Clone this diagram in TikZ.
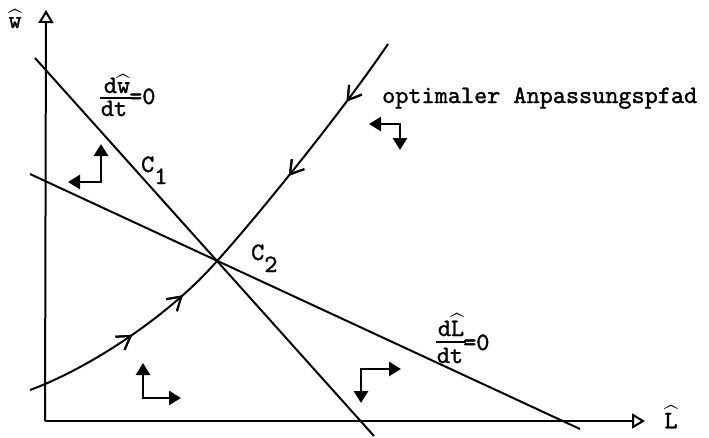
\documentclass[tikz,border=0pt]{standalone}
\usepackage{amsmath}
\usepackage{fontspec}
\newfontfamily\twfont{lmmono10-regular.otf}[FakeBold=1.4]
\usetikzlibrary{arrows.meta,decorations.markings}
\begin{document}
\begin{tikzpicture}[x=1pt,y=-1pt,
  ax/.style={line width=2pt,-{Triangle[open,length=13pt,width=15pt,line width=2pt]}},
  ln/.style={line width=2pt},
  frule/.style={line width=1.6pt},
  ph/.style={line width=2.8pt,{Triangle[length=12pt,width=14pt]}-{Triangle[length=12pt,width=14pt]}},
  lab/.style={font=\twfont\fontsize{25}{29}\selectfont,inner sep=0pt},
  fwd/.style={postaction={decorate},decoration={markings,
     mark=at position #1 with {\draw[line width=2pt,line join=miter] (-13pt,8pt) -- (0pt,0pt) -- (-13pt,-8pt);}}},
  bwd/.style={postaction={decorate},decoration={markings,
     mark=at position #1 with {\draw[line width=2pt,line join=miter] (13pt,8pt) -- (0pt,0pt) -- (13pt,-8pt);}}}
]
\useasboundingbox (0,0) rectangle (709,437);
% axes
\coordinate (o) at (45,421);
\coordinate (ytip) at (46,10);
\coordinate (xtip) at (645,421);
\draw[ax] (o) -- (ytip);
\draw[ax] (o) -- (xtip);
\node[lab] (yl) at (15,19) {$\widehat{\hbox{w}}$};
\node[lab] (xl) at (671,417) {$\widehat{\hbox{L}}$};
% isoclines
\coordinate (c2) at (217,261);
\coordinate (wa) at (35,58);
\coordinate (wb) at (374,436);
\coordinate (la) at (30,174);
\coordinate (lb) at (580,429);
\draw[ln] (wa) -- (wb);
\draw[ln] (la) -- (lb);
% adjustment path
\coordinate (s0) at (30,390);
\coordinate (s1) at (388,44);
\draw[ln,fwd=0.5,fwd=0.78] (s0) .. controls (90,368) and (170,315) .. (c2);
\draw[ln,bwd=0.41,bwd=0.75] (c2) .. controls (250,225) and (340,115) .. (s1);
% phase arrows
\coordinate (p1u) at (101,144); \coordinate (p1l) at (68,182);
\draw[ph] (p1u) |- (p1l);
\coordinate (p2l) at (369,124); \coordinate (p2d) at (400,150);
\draw[ph] (p2l) -| (p2d);
\coordinate (p3u) at (143,363); \coordinate (p3r) at (181,398);
\draw[ph] (p3u) |- (p3r);
\coordinate (p4r) at (401,369); \coordinate (p4d) at (361,403);
\draw[ph] (p4r) -| (p4d);
% fraction dw/dt = 0
\node[lab,anchor=base] (n1) at (117,93) {d$\widehat{\hbox{w}}$};
\node[lab,anchor=base] (d1) at (114,116) {dt};
\coordinate (r1a) at (100,98); \coordinate (r1b) at (132,98);
\draw[frule] (r1a) -- (r1b);
\node[lab,anchor=base west] (e1) at (129,104) {=0};
% fraction dL/dt = 0
\node[lab,anchor=base] (n2) at (451,336) {d$\widehat{\hbox{L}}$};
\node[lab,anchor=base] (d2) at (450,363) {dt};
\coordinate (r2a) at (436,342); \coordinate (r2b) at (466,342);
\draw[frule] (r2a) -- (r2b);
\node[lab,anchor=base west] (e2) at (463,350) {=0};
% labels
\node[lab,anchor=base west] (c1l) at (141,172) {C\raisebox{-12pt}{1}};
\node[lab,anchor=base west] (c2l) at (251,260) {C\raisebox{-12pt}{2}};
\node[lab,anchor=base west] (opt) at (382,103) {optimaler Anpassungspfad};
\end{tikzpicture}
\end{document}
